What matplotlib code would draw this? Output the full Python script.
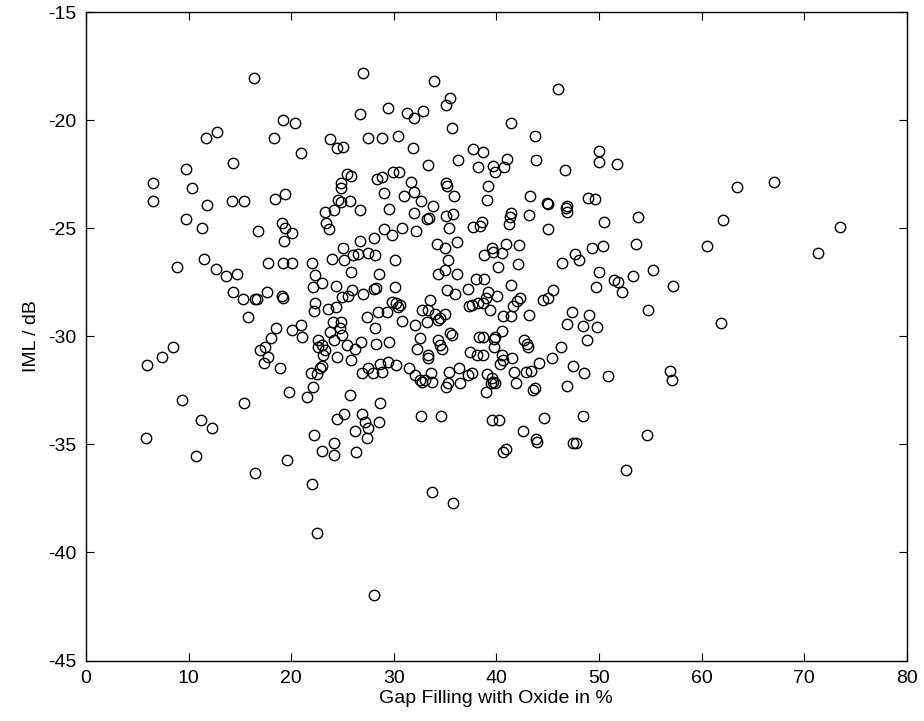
import matplotlib
matplotlib.use('Agg')
import matplotlib.pyplot as plt

plt.rcParams['font.family'] = ['Liberation Sans', 'DejaVu Sans']
plt.rcParams['axes.unicode_minus'] = False

# Gap filling with oxide (%) and IML (dB)
gap_fill = [
    16.37, 12.80, 11.66, 14.30, 9.71, 6.56, 10.30, 6.56, 14.20, 15.43, 11.76, 9.75, 11.31, 16.80,
    26.97, 33.89, 35.48, 35.09, 29.40, 26.67, 31.32, 31.94, 32.85, 19.17, 20.37, 35.64, 18.32, 23.78,
    24.50, 25.02, 27.52, 28.82, 30.44, 31.87, 20.92, 37.69, 36.29, 33.33, 25.47, 25.83, 28.40, 28.82,
    29.92, 30.51, 24.89, 24.85, 35.09, 35.19, 31.68, 29.05, 32.00, 31.03, 32.62, 35.90, 19.40, 18.42,
    24.59, 24.85, 25.76, 23.29, 24.17, 26.71, 29.56, 33.79, 31.94, 33.27, 33.43, 35.09, 35.74, 19.07,
    19.40, 20.11, 19.30, 23.39, 23.72, 29.08, 30.77, 29.79, 32.13, 28.07, 26.71, 35.35, 34.18, 36.19,
    45.97, 41.46, 43.76, 38.73, 38.24, 39.64, 39.86, 40.74, 41.00, 43.89, 46.69, 49.97, 49.97, 51.72,
    39.15, 39.05, 43.28, 44.96, 45.06, 46.75, 46.91, 46.85, 48.93, 49.64, 41.39, 41.32, 41.26, 43.21,
    44.99, 50.52, 53.77, 37.75, 38.40, 38.57,
    67.02, 63.42, 62.05, 73.46, 60.49, 71.31, 61.89,
    11.50, 8.84, 12.64, 13.65, 14.69, 14.36, 15.33, 16.47, 16.63, 17.61, 15.82, 16.96, 17.45, 17.77,
    17.35, 18.00, 18.50, 8.51, 7.37, 5.98, 9.32, 15.43, 11.18, 12.25, 5.85,
    10.72, 16.44,
    22.22, 19.56, 22.97, 24.15, 24.15, 26.31, 26.22, 27.42, 22.00, 22.55, 28.10, 33.69, 35.80,
    43.83, 43.93, 47.50, 47.76, 40.68, 40.90, 42.56, 54.71, 52.60,
    25.08, 34.99, 17.77, 19.23, 20.05, 21.99, 23.94, 25.18, 26.06, 26.55, 27.45, 28.17, 30.12, 25.83,
    28.59, 34.34, 34.99, 35.25, 36.19, 22.32, 22.97, 22.16, 24.37, 19.07, 19.23, 24.98, 25.51, 25.96,
    26.97, 28.10, 28.27, 30.12, 35.15, 35.97, 37.20, 37.33, 37.59, 38.24, 22.32, 22.25, 23.55, 24.34,
    27.36, 28.43, 29.30, 29.79, 30.18, 30.44, 30.60, 30.83, 28.17, 32.07, 32.72, 33.37, 33.53, 33.20,
    34.02, 34.34, 34.50, 34.99, 35.48, 35.64, 20.05, 20.96, 21.02, 24.11, 24.85, 24.76, 24.98, 23.78,
    24.21, 22.65, 22.97, 22.65, 23.29, 23.13, 24.43, 25.41, 26.22, 26.80, 28.27, 29.53, 32.55, 32.23,
    33.37, 33.30, 34.34, 34.50, 34.67, 37.43, 38.14, 25.83, 18.91, 22.97, 22.81, 21.89, 22.48, 26.87,
    27.52, 28.00, 28.66, 28.82, 29.47, 30.18, 31.51, 32.07, 32.55, 32.72, 33.04, 33.63, 33.69, 35.25,
    35.38, 36.36, 36.45, 37.27, 37.59, 35.12, 19.79, 21.51, 22.16, 25.73, 28.66, 24.43, 25.18, 26.93,
    27.19, 27.52, 28.59, 32.65, 34.57,
    40.94, 42.24, 39.54, 39.70, 38.79, 40.51, 40.12, 42.07, 46.36, 47.66, 48.08, 49.35, 50.36, 53.61,
    50.03, 51.49, 51.88, 52.24, 53.35, 55.30, 57.21, 49.71, 54.81, 38.01, 38.79, 39.21, 40.03, 38.99,
    38.66, 39.38, 41.42, 42.30, 41.98, 41.65, 40.68, 41.42, 43.18, 44.57, 45.06, 45.55, 47.40, 49.06,
    46.91, 48.47, 49.77, 48.86, 38.30, 38.73, 39.86, 39.77, 40.58, 39.77, 42.72, 42.95, 43.11, 46.26,
    38.73, 40.51, 40.35, 40.68, 41.49, 45.39, 44.18, 47.50, 48.54, 50.91, 41.72, 42.88, 43.37, 39.05,
    39.54, 39.64, 39.86, 39.44, 41.91, 43.60, 43.76, 46.91, 38.99, 56.95, 57.08, 39.54, 40.25, 44.64,
    48.47,
]
iml = [
    -18.03, -20.54, -20.83, -21.99, -22.27, -22.89, -23.12, -23.71, -23.71, -23.74, -23.92, -24.55, -24.99, -25.11,
    -17.83, -18.20, -18.95, -19.29, -19.42, -19.69, -19.65, -19.88, -19.57, -19.97, -20.11, -20.36, -20.80, -20.87,
    -21.27, -21.22, -20.82, -20.83, -20.73, -21.27, -21.53, -21.34, -21.85, -22.05, -22.49, -22.57, -22.70, -22.64,
    -22.41, -22.38, -22.92, -23.11, -22.92, -23.03, -22.86, -23.35, -23.30, -23.50, -23.71, -23.50, -23.40, -23.66,
    -23.69, -23.80, -23.72, -24.23, -24.17, -24.15, -24.11, -23.95, -24.31, -24.55, -24.50, -24.41, -24.35, -24.77,
    -24.97, -25.23, -25.59, -24.74, -25.05, -25.03, -24.97, -25.31, -25.11, -25.46, -25.59, -25.00, -25.71, -25.63,
    -18.54, -20.12, -20.74, -21.47, -22.15, -22.12, -22.38, -22.18, -21.79, -21.84, -22.31, -21.42, -21.91, -22.02,
    -23.03, -23.69, -23.49, -23.84, -23.89, -24.04, -23.97, -24.23, -23.58, -23.64, -24.28, -24.46, -24.82, -24.38,
    -25.03, -24.72, -24.46, -24.92, -24.88, -24.69,
    -22.87, -23.09, -24.60, -24.94, -25.82, -26.13, -29.37,
    -26.42, -26.78, -26.90, -27.21, -27.13, -27.93, -28.29, -28.29, -28.29, -27.93, -29.09, -30.63, -30.51, -30.94,
    -31.22, -30.09, -29.63, -30.51, -30.94, -31.30, -32.92, -33.08, -33.88, -34.26, -34.69,
    -35.53, -36.31,
    -34.57, -35.71, -35.31, -34.92, -35.50, -35.34, -34.37, -34.69, -36.84, -39.08, -41.99, -37.19, -37.73,
    -34.75, -34.88, -34.91, -34.91, -35.34, -35.19, -34.38, -34.54, -36.18,
    -25.93, -25.93, -26.62, -26.62, -26.58, -26.62, -26.43, -26.47, -26.23, -26.19, -26.16, -26.23, -26.47, -27.01,
    -27.09, -27.09, -26.93, -26.47, -27.09, -27.16, -27.55, -27.70, -27.67, -28.13, -28.21, -28.16, -28.13, -27.86,
    -28.04, -27.82, -27.75, -27.70, -27.86, -28.04, -27.82, -28.60, -28.55, -28.47, -28.47, -28.81, -28.75, -28.63,
    -29.09, -28.86, -28.86, -28.40, -28.47, -28.63, -28.55, -29.29, -29.63, -29.48, -28.78, -28.78, -28.32, -29.32,
    -28.94, -29.25, -29.17, -28.97, -29.86, -29.94, -29.71, -29.48, -30.02, -29.32, -29.32, -29.63, -29.94, -29.79,
    -30.17, -30.17, -30.40, -30.48, -30.63, -30.87, -30.94, -30.40, -30.56, -30.25, -30.36, -30.25, -30.09, -30.56,
    -30.87, -30.98, -30.17, -30.40, -30.56, -30.71, -30.87, -31.10, -31.45, -31.37, -31.48, -31.68, -31.74, -31.71,
    -31.48, -31.71, -31.28, -31.64, -31.17, -31.33, -31.44, -31.79, -32.02, -32.10, -32.02, -31.71, -32.10, -32.17,
    -31.64, -31.48, -32.14, -31.79, -31.71, -32.33, -32.56, -32.79, -32.33, -32.69, -33.10, -33.83, -33.57, -33.57,
    -33.95, -34.26, -33.95, -33.69, -33.69,
    -25.73, -25.79, -25.93, -26.08, -26.21, -26.13, -26.81, -26.67, -26.60, -26.19, -26.47, -25.93, -25.80, -25.73,
    -27.01, -27.40, -27.47, -27.93, -27.21, -26.93, -27.65, -27.70, -28.78, -27.36, -27.36, -27.93, -28.13, -28.20,
    -28.44, -28.78, -27.63, -28.20, -28.37, -28.60, -29.06, -29.06, -29.01, -28.32, -28.24, -27.86, -28.89, -29.03,
    -29.43, -29.52, -29.57, -30.17, -30.02, -30.05, -30.02, -30.11, -29.75, -30.51, -30.17, -30.36, -30.48, -30.50,
    -30.88, -30.87, -31.28, -31.10, -31.02, -30.99, -31.22, -31.36, -31.71, -31.82, -31.64, -31.64, -31.61, -31.76,
    -31.94, -32.10, -32.14, -32.17, -32.17, -32.48, -32.40, -32.28, -32.58, -31.61, -32.02, -33.88, -33.88, -33.76,
    -33.69,
]

fig = plt.figure(figsize=(9.24, 7.21), dpi=100)
ax = fig.add_axes([0.0931, 0.0839, 0.8882, 0.8990])

ax.plot(gap_fill, iml, 'o', markersize=7.5, markerfacecolor='none',
        markeredgecolor='black', markeredgewidth=1.0, linestyle='none')

ax.set_xlim(0, 80)
ax.set_ylim(-45, -15)
ax.set_xticks(range(0, 81, 10))
ax.set_yticks(range(-45, -14, 5))
ax.tick_params(direction='in', length=6, width=0.8, top=True, right=True,
               labelsize=14, pad=7)
for s in ax.spines.values():
    s.set_linewidth(1.0)

ax.set_xlabel('Gap Filling with Oxide in %', fontsize=14, labelpad=2)
ax.set_ylabel('IML / dB', fontsize=14, labelpad=6)

fig.savefig('out.png', dpi=100)
